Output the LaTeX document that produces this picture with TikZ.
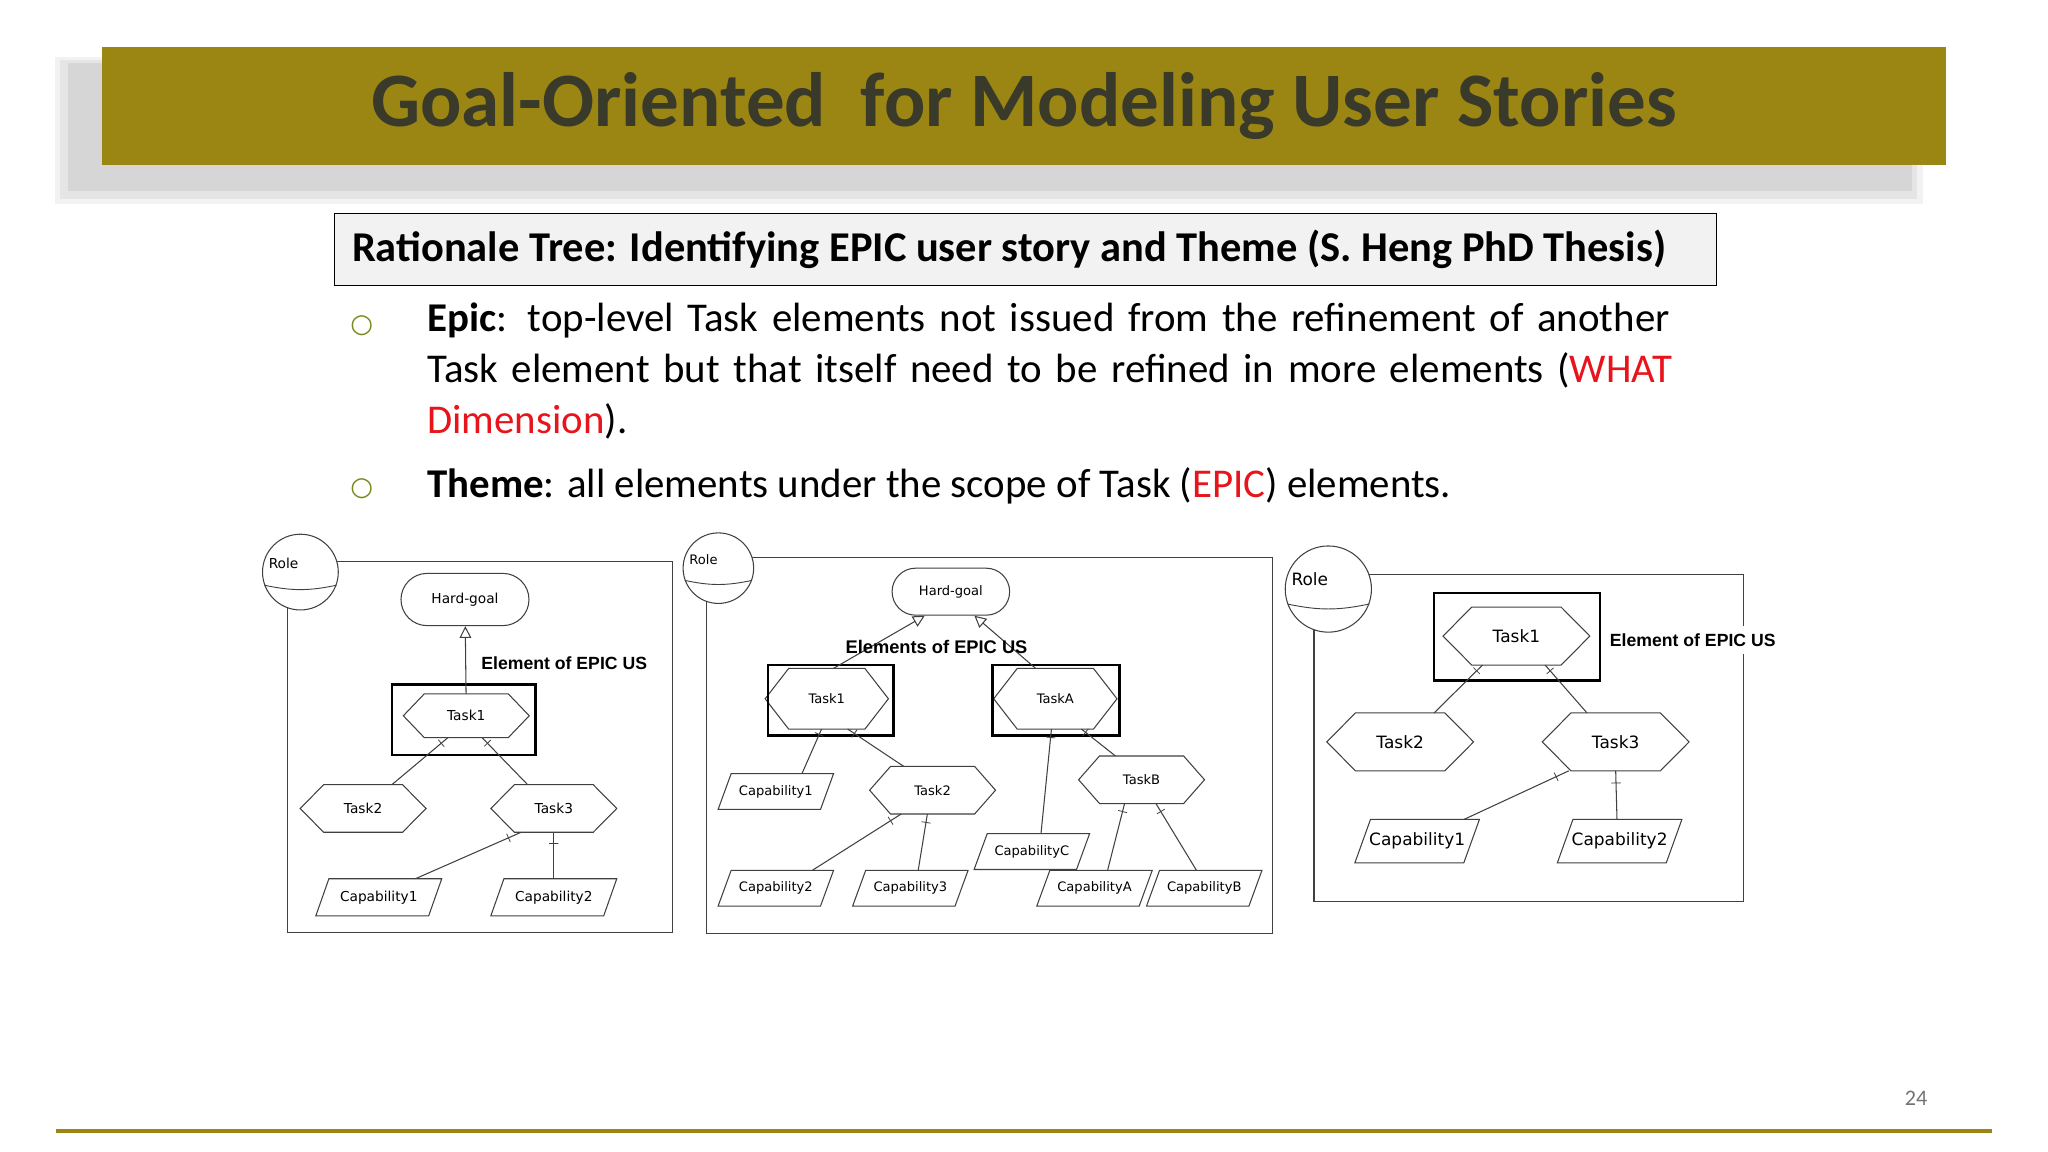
\documentclass[tikz,border=0pt]{standalone}
\usepackage{fontspec}
\setmainfont{Carlito}
\newfontfamily\dia{DejaVu Sans}
\newfontfamily\lab{Liberation Sans}
\newfontfamily\sym{DejaVu Sans}
\usetikzlibrary{arrows.meta,calc}
\definecolor{olive}{HTML}{9C8613}
\definecolor{titletxt}{HTML}{3A3A2A}
\definecolor{red1}{HTML}{E8141B}
\definecolor{bul}{HTML}{7A8A1A}
\tikzset{
 shp/.style={draw=black!75,line width=0.8pt},
 hexnode/.style={inner sep=0,minimum height=#1},
 con/.style={draw=black!75,line width=0.8pt},
 tick/.style={draw=black!75,line width=0.6pt,inner sep=0,minimum width=0,minimum height=7pt},
 ebox/.style={draw=black,line width=2pt},
 frame/.style={draw=black!75,line width=0.9pt},
 rolec/.style={circle,draw=black!75,line width=0.8pt,fill=white,inner sep=0},
 goal/.style={rounded corners=#1,draw=black!75,line width=0.8pt,fill=white},
 isa/.style={con,-{Triangle[open,length=9pt,width=9pt]}}
}
\newcommand\hexa[6]{\node[hexnode=#4,minimum width=#3,fill=white] (#1) at #2 {#6};
 \draw[shp] (#1.west) -- ([xshift=#5]#1.north west) -- ([xshift=-#5]#1.north east) -- (#1.east) -- ([xshift=-#5]#1.south east) -- ([xshift=#5]#1.south west) -- cycle;}
\newcommand\para[6]{\node[hexnode=#4,minimum width=#3] (#1) at #2 {#6};
 \draw[shp] ([xshift=#5]#1.north west) -- (#1.north east) -- ([xshift=-#5]#1.south east) -- (#1.south west) -- cycle;}
\newcommand\rolenode[4]{\node[rolec,minimum size=#3] (#1) at #2 {};
 \node[anchor=west,inner sep=0] (#1t) at ([xshift=5pt,yshift=#3*0.12]#1.west) {#4};
 \draw[black!75,line width=0.7pt] (#1.200) to[bend right=12] (#1.340);}
\begin{document}
\begin{tikzpicture}[x=1pt,y=-1pt]
\useasboundingbox (0,0) rectangle (1568,882);
\fill[white] (0,0) rectangle (1568,882);
% title
\fill[black!5] (42,44) rectangle (1472,156);
\fill[black!10] (46,46) rectangle (1468,152);
\fill[black!16] (52,48) rectangle (1464,146);
\fill[olive] (78,36) rectangle (1490,126);
\node[font=\fontsize{59}{64}\selectfont\bfseries,text=titletxt] (title) at (784,81) {Goal-Oriented\ \ for Modeling User Stories};
% subtitle box
\node[draw=black,line width=0.8pt,fill=black!5,minimum width=1058,minimum height=55,anchor=north west] (sub) at (256,163) {};
\node[anchor=west,font=\fontsize{32.5}{36}\selectfont\bfseries] (subt) at (266,191) {Rationale Tree: Identifying EPIC user story and Theme (S. Heng PhD Thesis)};
% bullets
\node[text=bul,font=\sym\fontsize{20}{24}\selectfont] (b1) at (277,249) {○};
\node[text=bul,font=\sym\fontsize{20}{24}\selectfont] (b2) at (277,374) {○};
\node[anchor=north west,text width=1000,align=left,inner sep=0,font=\fontsize{31.3}{39}\selectfont] (t1) at (327,232) {\textbf{Epic}: top-level Task elements not issued from the refinement of another\\ Task element but that itself need to be refined in more elements (\textcolor{red1}{WHAT}\\ \textcolor{red1}{Dimension}).};
\node[anchor=north west,inner sep=0,font=\fontsize{31.3}{39}\selectfont] (t2) at (327,358) {\textbf{Theme}: all elements under the scope of Task (\textcolor{red1}{EPIC}) elements.};
% bottom
\draw[olive,line width=2.5pt] (43,866) -- (1525,866);
\node[text=black!55,font=\fontsize{17}{20}\selectfont] (pg) at (1467,841) {24};

% ===== Diagram 1 =====
\begin{scope}[font=\dia\fontsize{10.5}{12}\selectfont]
\draw[frame] (220,430) rectangle (515,714);
\rolenode{r1}{(230,438)}{58}{Role}
\node[goal=20pt,minimum width=98,minimum height=40] (hg1) at (356,459) {Hard-goal};
\draw[ebox] (300,524) rectangle (410,578);
\hexa{a1}{(357,548)}{96}{33}{16}{Task1}
\hexa{a2}{(278,619)}{96}{36}{18}{Task2}
\hexa{a3}{(424,619)}{96}{36}{18}{Task3}
\para{a4}{(290,687)}{96}{28}{10}{Capability1}
\para{a5}{(424,687)}{96}{28}{10}{Capability2}
\draw[isa] (a1) -- (hg1);
\node[font=\lab\bfseries\fontsize{13.5}{15}\selectfont] (l1) at (432,508) {Element of EPIC US};
\draw[con] ([xshift=-14pt]a1.south) -- node[pos=0.12,sloped,tick]{} ([xshift=22pt]a2.north);
\draw[con] ([xshift=12pt]a1.south) -- node[pos=0.12,sloped,tick]{} ([xshift=-20pt]a3.north);
\draw[con] ([xshift=-25pt]a3.south) -- node[pos=0.12,sloped,tick]{} ([xshift=28pt]a4.north);
\draw[con] (a3.south) -- node[pos=0.25,sloped,tick]{} (a5.north);
\end{scope}

% ===== Diagram 2 =====
\begin{scope}[font=\dia\fontsize{10}{12}\selectfont]
\draw[frame] (541,427) rectangle (974,715);
\rolenode{r2}{(550,435)}{54}{Role}
\node[goal=18pt,minimum width=90,minimum height=36] (hg2) at (728,453) {Hard-goal};
\hexa{c1}{(633,535)}{94}{46}{18}{Task1}
\hexa{c2}{(808,535)}{94}{46}{18}{TaskA}
\draw[ebox] (588,509) rectangle (684,563);
\draw[ebox] (760,509) rectangle (857,563);
\hexa{c3}{(714,605)}{96}{36}{16}{Task2}
\hexa{c4}{(874,597)}{96}{36}{16}{TaskB}
\para{c5}{(594,606)}{88}{27}{10}{Capability1}
\para{c6}{(594,680)}{88}{27}{10}{Capability2}
\para{c7}{(697,680)}{88}{27}{10}{Capability3}
\para{c8}{(790,652)}{88}{27}{10}{CapabilityC}
\para{c9}{(838,680)}{88}{27}{10}{CapabilityA}
\para{c10}{(922,680)}{88}{27}{10}{CapabilityB}
\draw[isa] ([xshift=5pt]c1.north) -- ([xshift=-20pt]hg2.south);
\draw[isa] ([xshift=-15pt]c2.north) -- ([xshift=18pt]hg2.south);
\node[font=\lab\bfseries\fontsize{14}{15}\selectfont] (l2) at (717,495) {Elements of EPIC US};
\draw[con] ([xshift=-4pt]c1.south) -- node[pos=0.12,sloped,tick]{} ([xshift=20pt]c5.north);
\draw[con] ([xshift=16pt]c1.south) -- node[pos=0.12,sloped,tick]{} ([xshift=-22pt]c3.north);
\draw[con] ([xshift=-24pt]c3.south) -- node[pos=0.12,sloped,tick]{} ([xshift=28pt]c6.north);
\draw[con] ([xshift=-4pt]c3.south) -- node[pos=0.15,sloped,tick]{} ([xshift=6pt]c7.north);
\draw[con] ([xshift=-3pt]c2.south) -- node[pos=0.08,sloped,tick]{} ([xshift=7pt]c8.north);
\draw[con] ([xshift=20pt]c2.south) -- node[pos=0.12,sloped,tick]{} ([xshift=-20pt]c4.north);
\draw[con] ([xshift=-13pt]c4.south) -- node[pos=0.12,sloped,tick]{} ([xshift=10pt]c9.north);
\draw[con] ([xshift=11pt]c4.south) -- node[pos=0.12,sloped,tick]{} ([xshift=-6pt]c10.north);
\end{scope}

% ===== Diagram 3 =====
\begin{scope}[font=\dia\fontsize{13}{15}\selectfont]
\draw[frame] (1006,440) rectangle (1335,690);
\rolenode{r3}{(1017,451)}{66}{Role}
\draw[ebox] (1098,454) rectangle (1225,521);
\hexa{e1}{(1161,487)}{112}{44}{22}{Task1}
\hexa{e2}{(1072,568)}{112}{44}{22}{Task2}
\hexa{e3}{(1237,568)}{112}{44}{22}{Task3}
\para{e4}{(1085,644)}{95}{33}{12}{Capability1}
\para{e5}{(1240,644)}{95}{33}{12}{Capability2}
\node[fill=white,font=\lab\bfseries\fontsize{13.5}{15}\selectfont,inner xsep=2pt,inner ysep=6pt] (l3) at (1296,490) {Element of EPIC US};
\draw[con] ([xshift=-26pt]e1.south) -- node[pos=0.12,sloped,tick]{} ([xshift=26pt]e2.north);
\draw[con] ([xshift=22pt]e1.south) -- node[pos=0.12,sloped,tick]{} ([xshift=-22pt]e3.north);
\draw[con] ([xshift=-36pt]e3.south) -- node[pos=0.12,sloped,tick]{} ([xshift=36pt]e4.north);
\draw[con] (e3.south) -- node[pos=0.25,sloped,tick]{} ([xshift=-2pt]e5.north);
\end{scope}
\end{tikzpicture}
\end{document}
